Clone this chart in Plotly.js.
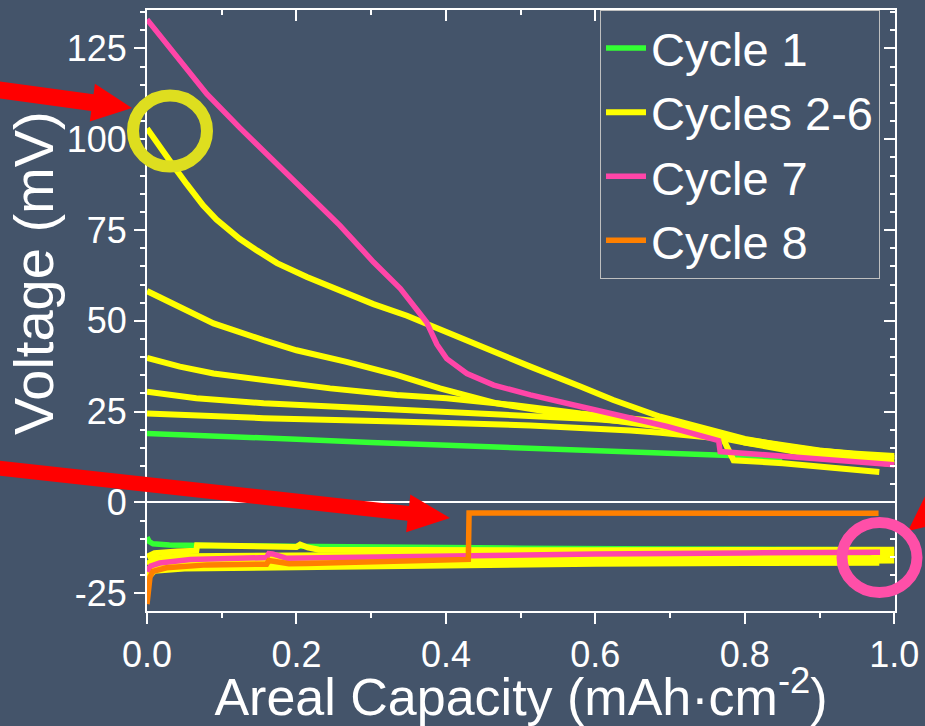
<!DOCTYPE html>
<html>
<head>
<meta charset="utf-8">
<script src="https://cdn.plot.ly/plotly-3.0.1.min.js"></script>
<style>html,body{margin:0;padding:0;background:#44546a;}#chart{width:925px;height:726px;}</style>
</head>
<body>
<div id="chart"></div>
<script>
// ---------- data ----------
const seriesNames = ["Cycle 1", "Cycles 2-6", "Cycle 7", "Cycle 8"];
const xTitle = "Areal Capacity (mAh·cm<sup>-2</sup>)";
const yTitle = "Voltage (mV)";

// Cycle 1
const c1UpX = [0, 0.1, 0.2, 0.3, 0.4, 0.5, 0.6, 0.7, 0.78, 0.85];
const c1UpY = [19.0, 18.3, 17.4, 16.5, 15.7, 15.0, 14.3, 13.6, 12.9, 11.5];
const c1LoX = [0, 0.003, 0.008, 0.03, 0.1, 0.3, 0.5, 0.7, 0.9, 0.995];
const c1LoY = [-9.6, -10.8, -11.4, -11.7, -11.9, -12.4, -12.6, -12.8, -12.9, -13.0];

// Cycles 2-6 (charge branch)
const c2UpX = [0, 0.017, 0.035, 0.053, 0.075, 0.093, 0.124, 0.147, 0.174, 0.214, 0.258, 0.303, 0.348, 0.379, 0.446, 0.513, 0.58, 0.624, 0.687, 0.75, 0.8, 0.85, 0.9, 0.95, 1.0];
const c2UpY = [103, 97.8, 92.8, 87.7, 81.8, 77.9, 72.6, 69.4, 65.9, 62.1, 58.4, 54.6, 51.4, 48.7, 42.9, 37.4, 31.9, 28.2, 23.6, 20.0, 17.5, 15.6, 14.2, 13.4, 12.8];
const c3UpX = [0, 0.044, 0.089, 0.156, 0.2, 0.267, 0.334, 0.392, 0.423, 0.468, 0.535, 0.602, 0.687, 0.75, 0.8, 0.9, 1.0];
const c3UpY = [58.2, 53.8, 49.3, 44.7, 41.9, 38.7, 35.1, 31.4, 29.6, 27.3, 25.0, 23.2, 20.8, 18.5, 16.5, 13.5, 11.5];
const c4UpX = [0, 0.044, 0.089, 0.156, 0.245, 0.334, 0.401, 0.49, 0.58, 0.687, 0.75, 0.8, 0.9, 1.0];
const c4UpY = [39.8, 37.4, 35.5, 33.7, 31.4, 29.6, 28.7, 26.8, 24.5, 22.3, 19.8, 17.3, 14.3, 12.2];
const c5UpX = [0, 0.066, 0.156, 0.245, 0.334, 0.423, 0.513, 0.602, 0.687, 0.77, 0.8, 0.9, 1.0];
const c5UpY = [30.5, 28.7, 27.3, 26.4, 25.5, 24.8, 24.1, 22.9, 21.5, 18.6, 16.5, 12.8, 10.5];
const c6UpX = [0, 0.156, 0.334, 0.513, 0.647, 0.687, 0.771, 0.785, 0.851, 0.92, 0.98];
const c6UpY = [24.5, 23.2, 22.3, 21.2, 19.8, 19.2, 17.5, 11.6, 10.8, 9.6, 8.4];

// Cycles 2-6 (discharge branch)
const c2LoX = [0, 0.01, 0.04, 0.066, 0.067, 0.1, 0.2, 0.205, 0.215, 0.23, 0.4, 0.6, 0.8, 1.0];
const c2LoY = [-15.0, -14.0, -13.5, -13.3, -11.8, -11.9, -12.3, -11.6, -12.4, -13.0, -13.2, -13.2, -13.1, -13.0];
const c3LoX = [0, 0.01, 0.05, 0.15, 0.3, 0.5, 0.7, 0.9, 1.0];
const c3LoY = [-17, -15.5, -14.8, -14.6, -14.5, -14.4, -14.2, -14.0, -13.8];
const c4LoX = [0, 0.01, 0.05, 0.2, 0.4, 0.6, 0.8, 0.97, 0.99, 1.0];
const c4LoY = [-19, -17, -16.2, -15.9, -15.8, -15.6, -15.4, -15.3, -14.5, -14.4];
const c5LoX = [0, 0.01, 0.05, 0.2, 0.4, 0.6, 0.8, 1.0];
const c5LoY = [-20, -18, -17.3, -17.0, -16.6, -16.4, -16.2, -16.0];
const c6LoX = [0, 0.01, 0.05, 0.2, 0.4, 0.6, 0.8, 0.98];
const c6LoY = [-21, -18.8, -18.2, -17.8, -17.2, -16.9, -16.7, -16.6];

// Cycle 7
const c7UpX = [0, 0.04, 0.08, 0.124, 0.169, 0.214, 0.258, 0.303, 0.339, 0.374, 0.388, 0.401, 0.428, 0.464, 0.513, 0.58, 0.647, 0.696, 0.765, 0.767, 0.874, 1.0];
const c7UpY = [133, 122.5, 112.5, 103.2, 94.2, 85.4, 76.3, 66.2, 58.9, 49.7, 43.5, 39.6, 35.5, 32.3, 29.6, 26.4, 23.2, 20.9, 17.0, 14.0, 12.4, 10.4];
const c7LoX = [0, 0.005, 0.017, 0.058, 0.16, 0.163, 0.168, 0.187, 0.258, 0.437, 0.6, 0.8, 0.981];
const c7LoY = [-19.0, -17.5, -16.7, -15.7, -15.2, -14.1, -14.2, -15.4, -15.2, -14.5, -14.2, -13.9, -13.7];

// Cycle 8
const c8LoX = [0, 0.002, 0.004, 0.008, 0.026, 0.08, 0.16, 0.163, 0.17, 0.19, 0.214, 0.348, 0.43, 0.431, 0.6, 0.8, 0.979];
const c8LoY = [-28, -22, -20.5, -19, -18, -17.2, -17.0, -16.0, -16.2, -16.9, -16.8, -16.2, -15.7, -2.9, -2.9, -2.9, -3.0];

const xTickVals = [0, 0.2, 0.4, 0.6, 0.8, 1.0];
const xTickText = ["0.0", "0.2", "0.4", "0.6", "0.8", "1.0"];
const yTickVals = [-25, 0, 25, 50, 75, 100, 125];
const yTickText = ["-25", "0", "25", "50", "75", "100", "125"];

// ---------- styling ----------
const BG = "#44546a";
const COLORS = ["#33ff33", "#ffff00", "#ff45a8", "#ff8000"];
const LW = 5.5;
const FONT = "Liberation Sans, Arial, Helvetica, sans-serif";

function join(ax, ay, bx, by) {
  return { x: ax.concat([null], bx), y: ay.concat([null], by) };
}

const traces = [];
const g1 = join(c1UpX, c1UpY, c1LoX, c1LoY);
traces.push({ x: g1.x, y: g1.y, mode: "lines", name: seriesNames[0], line: { color: COLORS[0], width: LW }, connectgaps: false });

const yellowSets = [
  [c2UpX, c2UpY, c2LoX, c2LoY],
  [c3UpX, c3UpY, c3LoX, c3LoY],
  [c4UpX, c4UpY, c4LoX, c4LoY],
  [c5UpX, c5UpY, c5LoX, c5LoY],
  [c6UpX, c6UpY, c6LoX, c6LoY]
];
yellowSets.forEach((s, i) => {
  const g = join(s[0], s[1], s[2], s[3]);
  traces.push({ x: g.x, y: g.y, mode: "lines", name: seriesNames[1], legendgroup: "y26", showlegend: i === 0, line: { color: COLORS[1], width: 6 }, connectgaps: false });
});

const g7 = join(c7UpX, c7UpY, c7LoX, c7LoY);
traces.push({ x: g7.x, y: g7.y, mode: "lines", name: seriesNames[2], line: { color: COLORS[2], width: LW }, connectgaps: false });
traces.push({ x: c8LoX, y: c8LoY, mode: "lines", name: seriesNames[3], line: { color: COLORS[3], width: LW } });

// dummy trace for mirrored (inward-tick) axes
traces.push({ x: [null], y: [null], xaxis: "x2", yaxis: "y2", showlegend: false, hoverinfo: "skip", mode: "lines" });

// ---------- decorations (pixel -> paper) ----------
const M = { l: 147, r: 30, t: 10, b: 115 };
const W = 925, H = 726;
const PW = W - M.l - M.r, PH = H - M.t - M.b;
const PX = p => (p - M.l) / PW;
const PY = p => (H - M.b - p) / PH;

function arrowPath(x0, y0, x1, y1, sw, hl, hw) {
  const dx = x1 - x0, dy = y1 - y0, L = Math.hypot(dx, dy);
  const ux = dx / L, uy = dy / L, nx = -uy, ny = ux;
  const bx = x1 - hl * ux, by = y1 - hl * uy;
  const pts = [
    [x0 + nx * sw / 2, y0 + ny * sw / 2],
    [bx + nx * sw / 2, by + ny * sw / 2],
    [bx + nx * hw, by + ny * hw],
    [x1, y1],
    [bx - nx * hw, by - ny * hw],
    [bx - nx * sw / 2, by - ny * sw / 2],
    [x0 - nx * sw / 2, y0 - ny * sw / 2]
  ];
  return "M" + pts.map(p => PX(p[0]).toFixed(5) + "," + PY(p[1]).toFixed(5)).join(" L") + " Z";
}
function ring(cx, cy, rx, ry, color, w) {
  return { type: "circle", xref: "paper", yref: "paper", layer: "above",
    x0: PX(cx - rx), x1: PX(cx + rx), y0: PY(cy + ry), y1: PY(cy - ry),
    line: { color: color, width: w }, fillcolor: "rgba(0,0,0,0)" };
}
function arrow(x0, y0, x1, y1, sw, hl, hw) {
  return { type: "path", xref: "paper", yref: "paper", layer: "above",
    path: arrowPath(x0, y0, x1, y1, sw, hl, hw), fillcolor: "#ff0000", line: { width: 0, color: "#ff0000" } };
}

const shapes = [
  arrow(-20, 87.3, 132, 108, 17, 40, 19),
  arrow(-20, 466, 450, 518, 15, 42, 19),
  arrow(1025, 438, 908, 531, 16, 42, 20),
  ring(170, 131, 37, 35.5, "#dede1f", 12),
  ring(879.5, 557.5, 37.5, 35, "#ff4fa8", 11)
];

// ---------- layout ----------
const axisCommon = {
  showline: true, linecolor: "#ffffff", linewidth: 2, showgrid: false,
  tickcolor: "#ffffff", tickwidth: 2, ticklen: 11,
  tickfont: { family: FONT, size: 36, color: "#ffffff" }
};
const layout = {
  width: W, height: H, margin: M, autosize: false,
  paper_bgcolor: BG, plot_bgcolor: BG,
  font: { family: FONT, color: "#ffffff" },
  showlegend: true,
  legend: {
    x: PX(600), y: 1, xanchor: "left", yanchor: "top",
    bgcolor: BG, bordercolor: "#bfbfbf", borderwidth: 1, itemwidth: 40,
    font: { family: FONT, size: 47, color: "#ffffff" }, tracegroupgap: 0
  },
  annotations: [{
    text: yTitle, textangle: -90, xref: "paper", yref: "paper",
    x: PX(33), y: PY(273), xanchor: "center", yanchor: "middle", showarrow: false,
    font: { family: FONT, size: 56, color: "#ffffff" }
  }],
  xaxis: Object.assign({}, axisCommon, {
    range: [0, 1.001], tickmode: "array", tickvals: xTickVals, ticktext: xTickText, ticks: "outside",
    zeroline: false, mirror: false,
    minor: { dtick: 0.1, ticks: "outside", ticklen: 5, tickwidth: 2, tickcolor: "#ffffff" },
    title: { text: xTitle, font: { family: FONT, size: 52, color: "#ffffff" }, standoff: 8 }
  }),
  yaxis: Object.assign({}, axisCommon, {
    range: [-29.9, 135.6], tickmode: "array", tickvals: yTickVals, ticktext: yTickText, ticks: "outside",
    zeroline: true, zerolinecolor: "#ffffff", zerolinewidth: 2, mirror: false,
    minor: { dtick: 5, ticks: "outside", ticklen: 5, tickwidth: 2, tickcolor: "#ffffff" }
  }),
  xaxis2: Object.assign({}, axisCommon, {
    overlaying: "x", side: "top", anchor: "y2", range: [0, 1.001], tickmode: "array", tickvals: xTickVals,
    ticks: "inside", showticklabels: false, zeroline: false,
    minor: { dtick: 0.1, ticks: "inside", ticklen: 5, tickwidth: 2, tickcolor: "#ffffff" }
  }),
  yaxis2: Object.assign({}, axisCommon, {
    overlaying: "y", side: "right", anchor: "x2", range: [-29.9, 135.6], tickmode: "array", tickvals: yTickVals,
    ticks: "inside", showticklabels: false, zeroline: false,
    minor: { dtick: 5, ticks: "inside", ticklen: 5, tickwidth: 2, tickcolor: "#ffffff" }
  }),
  shapes: shapes
};

Plotly.newPlot("chart", traces, layout, { staticPlot: true, displayModeBar: false });
</script>
</body>
</html>
